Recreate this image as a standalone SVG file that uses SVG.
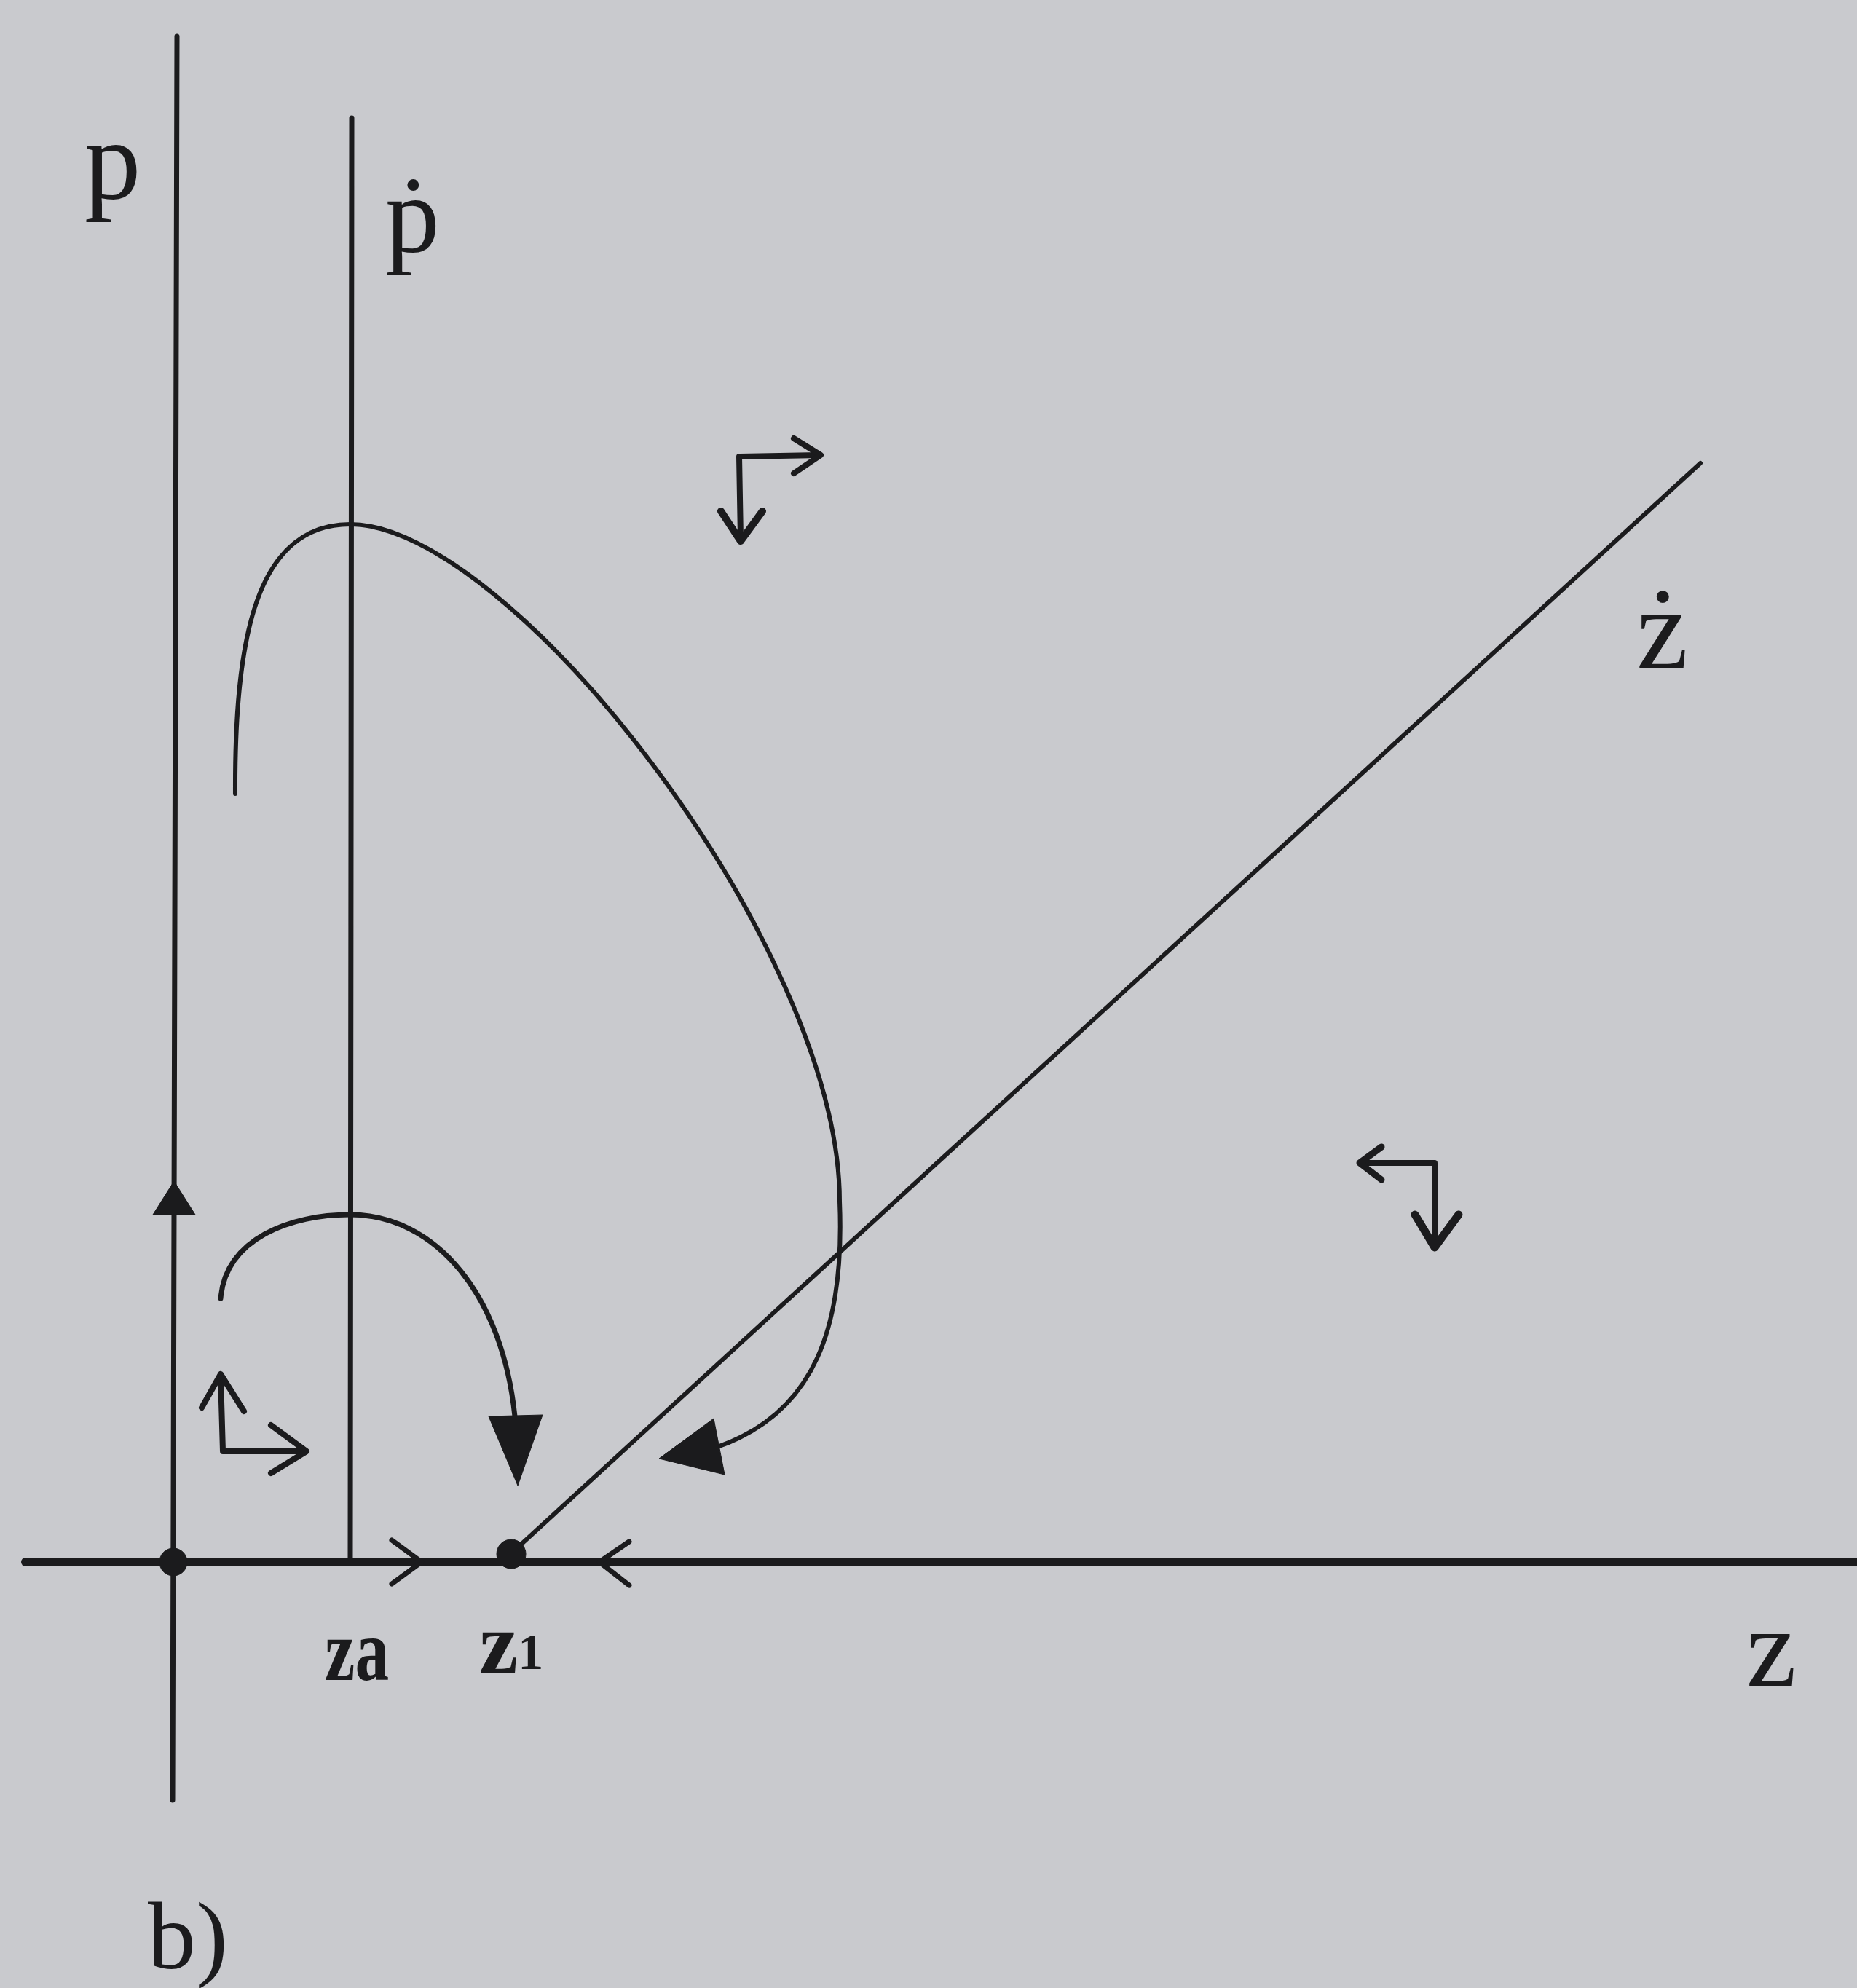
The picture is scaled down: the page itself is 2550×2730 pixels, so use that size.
<svg xmlns="http://www.w3.org/2000/svg" width="2550" height="2730" viewBox="0 0 2550 2730">
<style>
.ink{stroke:#1b1b1d;fill:none;stroke-linecap:round;stroke-linejoin:round}
.fill{fill:#1b1b1d;stroke:#1b1b1d;stroke-linejoin:round}
.lbl{font-family:"Liberation Serif","Times New Roman",serif;fill:#1b1b1d}
.sub{font-family:"Liberation Serif","Times New Roman",serif;font-weight:bold;fill:#1b1b1d}
</style>
<rect width="2550" height="2730" fill="#c9cace"/>
<g id="axes">
<line class="ink" x1="243" y1="50" x2="237" y2="2472" stroke-width="7"/>
<line class="ink" x1="35" y1="2145" x2="2550" y2="2145" stroke-width="12"/>
<polygon class="fill" points="239,1622 210,1668 268,1668"/>
<polyline class="ink" points="538,2115 579,2145 538,2175" stroke-width="7"/>
<polyline class="ink" points="864,2117 823,2145 864,2177" stroke-width="7"/>
<circle class="fill" cx="238" cy="2145" r="19"/>
<circle class="fill" cx="702" cy="2134" r="20"/>
</g>
<g id="nullclines">
<line class="ink" x1="483" y1="162" x2="481" y2="2140" stroke-width="7"/>
<line class="ink" x1="712" y1="2124" x2="2335" y2="636" stroke-width="6"/>
</g>
<g id="trajectories">
<path class="ink" stroke-width="6" d="M323,1090 C322,880 350,720 481,720 C700,720 1153,1300 1153,1650 C1160,1820 1120,1940 985,1987"/>
<polygon class="fill" points="905,2003 980,1948 995,2025"/>
<path class="ink" stroke-width="7" d="M303,1783 C310,1700 400,1668 480,1668 C600,1668 690,1780 707,1945"/>
<polygon class="fill" points="671,1945 745,1943 711,2040"/>
</g>
<g id="direction-arrows">
<polyline class="ink" stroke-width="8" points="1017,740 1015,627 1125,625"/>
<polyline class="ink" stroke-width="8" points="1090,602 1127,625 1090,650"/>
<polyline class="ink" stroke-width="10" points="990,702 1017,743 1047,702"/>
<polyline class="ink" stroke-width="8" points="1870,1597 1970,1597 1970,1710"/>
<polyline class="ink" stroke-width="9" points="1897,1575 1867,1597 1897,1620"/>
<polyline class="ink" stroke-width="11" points="1943,1668 1970,1713 2003,1668"/>
<polyline class="ink" stroke-width="8" points="303,1890 306,1993 418,1993"/>
<polyline class="ink" stroke-width="8" points="277,1933 303,1887 335,1938"/>
<polyline class="ink" stroke-width="8" points="372,1957 421,1993 372,2023"/>
</g>
<g id="labels">
<text class="lbl" x="116" y="272" font-size="155">p</text>
<text class="lbl" x="529" y="346" font-size="150">ṗ</text>
<text class="lbl" x="2247" y="918" font-size="160">ż</text>
<text class="lbl" x="2398" y="2315" font-size="155">z</text>
<text class="sub" x="446" y="2307" font-size="120" textLength="88" lengthAdjust="spacingAndGlyphs">za</text>
<text class="sub" x="658" y="2297" font-size="120">z<tspan font-size="70" dy="-5">1</tspan></text>
<text class="lbl" x="203" y="2703" font-size="132">b)</text>
</g>
</svg>
